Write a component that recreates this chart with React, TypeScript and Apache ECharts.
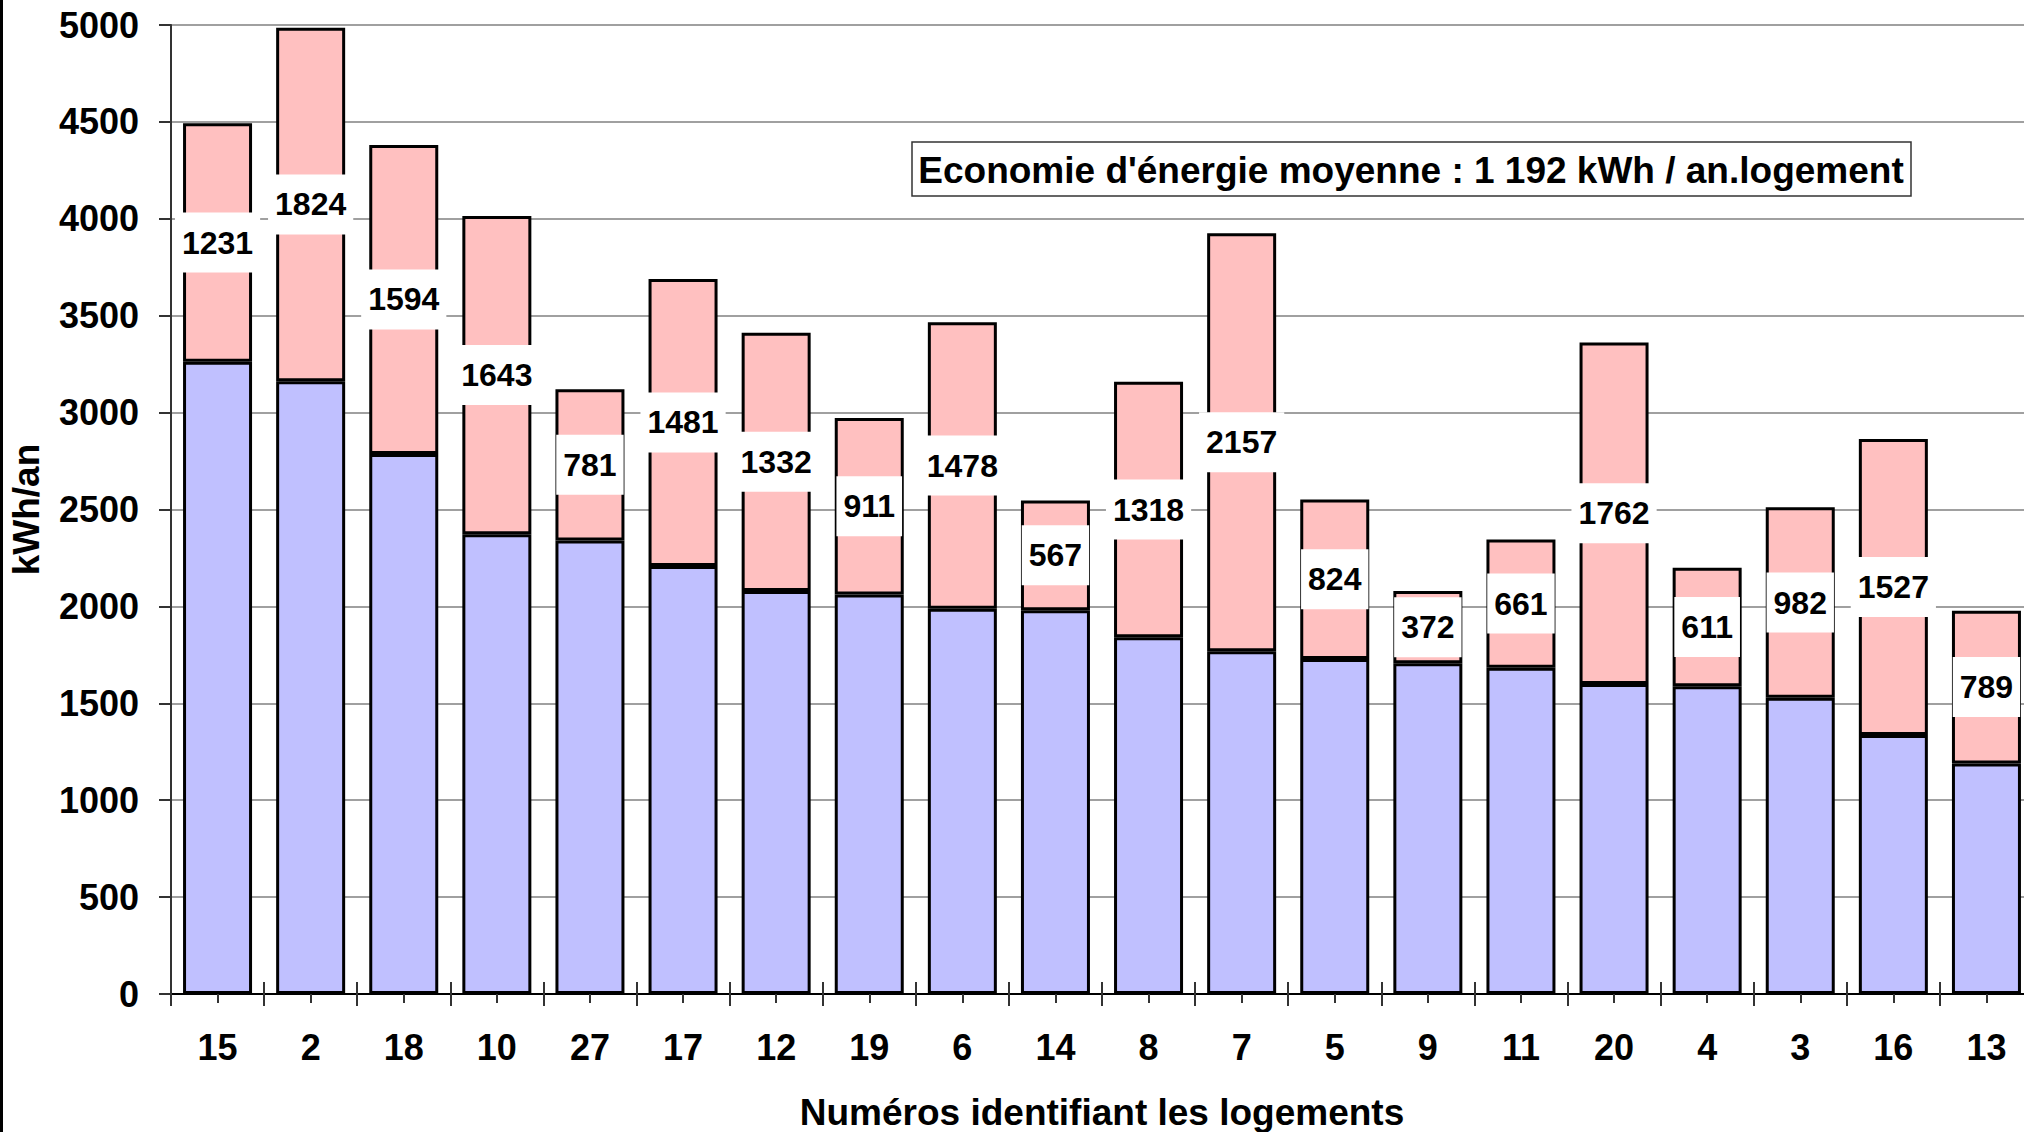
import React, { useEffect, useRef } from "react";
import * as echarts from "echarts";

const categories = ["15", "2", "18", "10", "27", "17", "12", "19", "6", "14", "8", "7", "5", "9", "11", "20", "4", "3", "16", "13"];
const consumptionAfter = [3262, 3162, 2787, 2372, 2340, 2209, 2080, 2061, 1988, 1980, 1841, 1768, 1728, 1707, 1684, 1600, 1588, 1529, 1337, 1189];
const savings = [1231, 1824, 1594, 1643, 781, 1481, 1332, 911, 1478, 567, 1318, 2157, 824, 372, 661, 1762, 611, 982, 1527, 789];
const yTicks = { min: 0, max: 5000, interval: 500 };
const boxText = "Economie d'énergie moyenne : 1 192 kWh / an.logement";
const xName = "Numéros identifiant les logements";
const yName = "kWh/an";

const FONT = "Liberation Sans, Arial, sans-serif";

export default function App() {
  const ref = useRef<HTMLDivElement>(null);
  useEffect(() => {
    if (!ref.current) return;
    const chart = echarts.init(ref.current, undefined, { renderer: "svg" });
    const tickStyle = { color: "#333", width: 2 };
    chart.setOption({
      animation: false,
      backgroundColor: "#fff",
      grid: { left: 171, top: 25, right: 17, bottom: 138, containLabel: false, outerBoundsMode: "none" },
      xAxis: [
        {
          type: "category",
          data: categories,
          position: "bottom",
          axisLine: { show: true, lineStyle: { color: "#000", width: 2 } },
          axisTick: { show: true, length: 12, alignWithLabel: false, lineStyle: tickStyle },
          axisLabel: { fontSize: 36, fontWeight: "bold", color: "#000", margin: 35, fontFamily: FONT },
          name: xName,
          nameLocation: "middle",
          nameGap: 100,
          nameTextStyle: { fontSize: 37, fontWeight: "bold", color: "#000", fontFamily: FONT },
        },
        {
          type: "category",
          data: categories,
          position: "bottom",
          axisLine: { show: false },
          axisTick: { show: true, inside: true, length: 12, alignWithLabel: false, lineStyle: tickStyle },
          axisLabel: { show: false },
        },
        {
          type: "category",
          data: categories,
          position: "bottom",
          axisLine: { show: false },
          axisTick: { show: true, length: 9, alignWithLabel: true, lineStyle: tickStyle },
          axisLabel: { show: false },
        },
      ],
      yAxis: {
        type: "value",
        min: yTicks.min,
        max: yTicks.max,
        interval: yTicks.interval,
        axisLine: { show: true, lineStyle: { color: "#333", width: 2 } },
        axisTick: { show: true, length: 12, lineStyle: tickStyle },
        axisLabel: {
          fontSize: 36,
          fontWeight: "bold",
          color: "#000",
          margin: 32,
          fontFamily: FONT,
          formatter: (v: number) => String(v),
        },
        splitLine: { show: true, lineStyle: { color: "#808080", width: 1.5 } },
        name: yName,
        nameLocation: "middle",
        nameRotate: 90,
        nameGap: 126,
        nameTextStyle: { fontSize: 37, fontWeight: "bold", color: "#000", fontFamily: FONT },
      },
      series: [
        {
          type: "bar",
          name: "after",
          stack: "total",
          data: consumptionAfter,
          barWidth: 69,
          xAxisIndex: 0,
          itemStyle: { color: "#C0C0FF", borderColor: "#000", borderWidth: 3 },
        },
        {
          type: "bar",
          name: "savings",
          stack: "total",
          data: savings,
          barWidth: 69,
          xAxisIndex: 0,
          itemStyle: { color: "#FFC0C0", borderColor: "#000", borderWidth: 3 },
          label: {
            show: true,
            position: "inside",
            backgroundColor: "#fff",
            padding: [14, 7, 14, 7],
            fontSize: 32,
            lineHeight: 32,
            fontWeight: "bold",
            color: "#000",
            textBorderWidth: 0,
            fontFamily: FONT,
          },
        },
      ],
      graphic: [
        { type: "rect", left: 0, top: 0, shape: { x: 0, y: 0, width: 3, height: 1132 }, style: { fill: "#000" }, z: 100 },
        {
          type: "rect",
          shape: { x: 912, y: 142, width: 999, height: 54 },
          style: { fill: "#fff", stroke: "#333", lineWidth: 1.5 },
          z: 100,
        },
        {
          type: "text",
          x: 1411,
          y: 170,
          style: {
            text: boxText,
            fontSize: 37,
            fontWeight: "bold",
            fill: "#000",
            fontFamily: FONT,
            align: "center",
            verticalAlign: "middle",
          },
          z: 101,
        },
      ],
    });
    return () => chart.dispose();
  }, []);
  return (
    <div style={{ position: "fixed", left: 0, top: 0, width: 2024, height: 1132, overflow: "hidden", background: "#fff" }}>
      <div ref={ref} style={{ width: 2050, height: 1132 }} />
    </div>
  );
}
